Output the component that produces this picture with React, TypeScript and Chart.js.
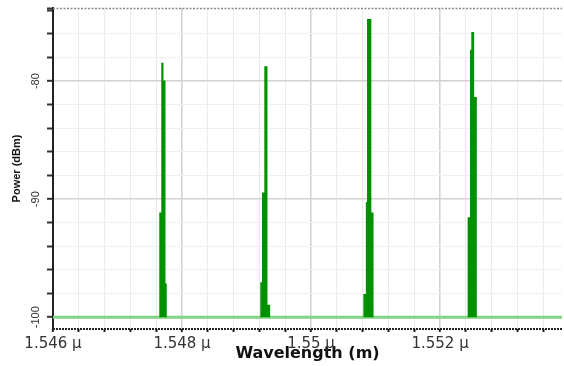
import React, { useEffect, useRef } from "react";
import { Chart, registerables } from "chart.js";

Chart.register(...registerables);

// Axis ranges (µm and dBm)
const wavelengthMin = 1.546;
const wavelengthMax = 1.55389;
const powerMin = -101;
const powerMax = -73.8;
const xMinorStep = 0.0004;
const yStep = 2;
const yLabelValues = [-80, -90, -100];
const noiseFloorDbm = -100;

// Spectrum peaks (wavelength in µm, power in dBm), drawn as steps
const peak1Wavelengths = [1.547659, 1.547659, 1.54769, 1.547701, 1.547732, 1.547752];
const peak1Powers = [-100, -91.2, -78.5, -80.0, -97.2, -100];
const peak2Wavelengths = [1.549225, 1.549225, 1.549251, 1.549287, 1.549313, 1.549354];
const peak2Powers = [-100, -97.1, -89.5, -78.8, -99.0, -100];
const peak3Wavelengths = [1.550822, 1.550822, 1.550861, 1.550879, 1.550923, 1.550957];
const peak3Powers = [-100, -98.1, -90.3, -74.8, -91.2, -100];
const peak4Wavelengths = [1.552439, 1.552439, 1.552476, 1.552496, 1.552516, 1.552558];
const peak4Powers = [-100, -91.6, -77.4, -75.9, -81.4, -100];

const peaks = [
  [peak1Wavelengths, peak1Powers],
  [peak2Wavelengths, peak2Powers],
  [peak3Wavelengths, peak3Powers],
  [peak4Wavelengths, peak4Powers],
];

const isMajorX = (v: number) => Math.abs(v * 500 - Math.round(v * 500)) < 1e-6;
const isMajorY = (v: number) => yLabelValues.some((l) => Math.abs(l - v) < 1e-6);

const framePlugin = {
  id: "frame",
  beforeDatasetsDraw(chart: any) {
    const { ctx, chartArea } = chart;
    ctx.save();
    ctx.strokeStyle = "#8a8a8a";
    ctx.lineWidth = 1.5;
    ctx.setLineDash([2, 1.5]);
    ctx.beginPath();
    ctx.moveTo(chartArea.left, chartArea.top + 0.5);
    ctx.lineTo(chartArea.right, chartArea.top + 0.5);
    ctx.stroke();
    ctx.restore();
  },
  afterDraw(chart: any) {
    const { ctx, chartArea } = chart;
    ctx.save();
    ctx.strokeStyle = "#222";
    ctx.lineWidth = 2;
    ctx.setLineDash([2, 1]);
    ctx.beginPath();
    ctx.moveTo(chartArea.left, chartArea.bottom);
    ctx.lineTo(chartArea.right, chartArea.bottom);
    ctx.stroke();
    ctx.restore();
  },
};

export default function App() {
  const ref = useRef<HTMLCanvasElement>(null);

  useEffect(() => {
    if (!ref.current) return;
    const spectrum: any[] = [];
    peaks.forEach(([ws, ps], i) => {
      ws.forEach((w, k) => spectrum.push({ x: w, y: ps[k] }));
      if (i < peaks.length - 1) {
        const next = peaks[i + 1][0][0];
        spectrum.push({ x: (ws[ws.length - 1] + next) / 2, y: null });
      }
    });

    const chart = new Chart(ref.current, {
      type: "line",
      data: {
        datasets: [
          {
            label: "Spectrum",
            data: spectrum,
            stepped: "before",
            borderColor: "rgb(0,145,0)",
            backgroundColor: "rgb(0,145,0)",
            borderWidth: 1.5,
            fill: { value: noiseFloorDbm },
            pointRadius: 0,
            spanGaps: false,
          },
          {
            label: "Floor",
            data: [
              { x: wavelengthMin, y: noiseFloorDbm },
              { x: wavelengthMax, y: noiseFloorDbm },
            ],
            borderColor: "rgb(130,212,130)",
            borderWidth: 3,
            pointRadius: 0,
            fill: false,
          },
        ],
      },
      options: {
        responsive: false,
        animation: false,
        layout: { padding: { left: 10, right: 2, top: 8, bottom: 0 } },
        plugins: { legend: { display: false }, tooltip: { enabled: false } },
        scales: {
          x: {
            type: "linear",
            min: wavelengthMin,
            max: wavelengthMax,
            afterFit: (s: any) => {
              s.height = 37;
            },
            afterBuildTicks: (s: any) => {
              const t: any[] = [];
              for (let v = wavelengthMin; v < wavelengthMax + 1e-9; v += xMinorStep) {
                t.push({ value: Math.round(v * 1e5) / 1e5 });
              }
              s.ticks = t;
            },
            ticks: {
              autoSkip: false,
              maxRotation: 0,
              minRotation: 0,
              padding: 3,
              color: "#333",
              font: { family: "DejaVu Sans", size: 15 },
              callback: (v: any) =>
                isMajorX(Number(v)) ? `${parseFloat(Number(v).toFixed(3))} μ` : "",
            },
            grid: {
              color: (c: any) =>
                c.tick && isMajorX(c.tick.value) ? "#d2d2d2" : "#ebebeb",
              lineWidth: (c: any) => (c.tick && isMajorX(c.tick.value) ? 1.6 : 1),
              tickLength: 3,
              tickColor: "#222",
              tickWidth: 2,
            },
            border: { display: false },
            title: {
              display: true,
              text: "Wavelength (m)",
              color: "#111",
              font: { family: "DejaVu Sans", size: 16, weight: "bold" },
              padding: { top: 0, bottom: 3 },
            },
          },
          y: {
            type: "linear",
            min: powerMin,
            max: powerMax,
            afterFit: (s: any) => {
              s.width = 43;
            },
            afterBuildTicks: (s: any) => {
              const t: any[] = [];
              for (let v = noiseFloorDbm; v <= powerMax; v += yStep) t.push({ value: v });
              t.push({ value: powerMax });
              s.ticks = t;
            },
            ticks: {
              autoSkip: false,
              minRotation: 90,
              maxRotation: 90,
              crossAlign: "center",
              padding: 0,
              color: "#333",
              font: { family: "Liberation Sans", size: 11 },
              callback: (v: any) => (isMajorY(Number(v)) ? String(v) : ""),
            },
            grid: {
              color: (c: any) => {
                if (!c.tick) return "#ececec";
                const v = c.tick.value;
                if (v >= powerMax - 0.5) return "rgba(0,0,0,0)";
                return isMajorY(v) ? "#d2d2d2" : "#efefef";
              },
              lineWidth: (c: any) => (c.tick && isMajorY(c.tick.value) ? 1.6 : 1),
              tickLength: 6,
              tickColor: "#333",
              tickWidth: 2,
            },
            border: { color: "#222", width: 2 },
            title: {
              display: true,
              text: "Power (dBm)",
              color: "#111",
              font: { family: "Liberation Sans", size: 11, weight: "bold" },
              padding: { top: 0, bottom: 0 },
            },
          },
        },
      },
      plugins: [framePlugin],
    } as any);
    return () => chart.destroy();
  }, []);

  return (
    <div style={{ position: "fixed", left: 0, top: 0, width: 564, height: 366, background: "#fff" }}>
      <canvas ref={ref} width={564} height={366} style={{ display: "block" }} />
    </div>
  );
}
